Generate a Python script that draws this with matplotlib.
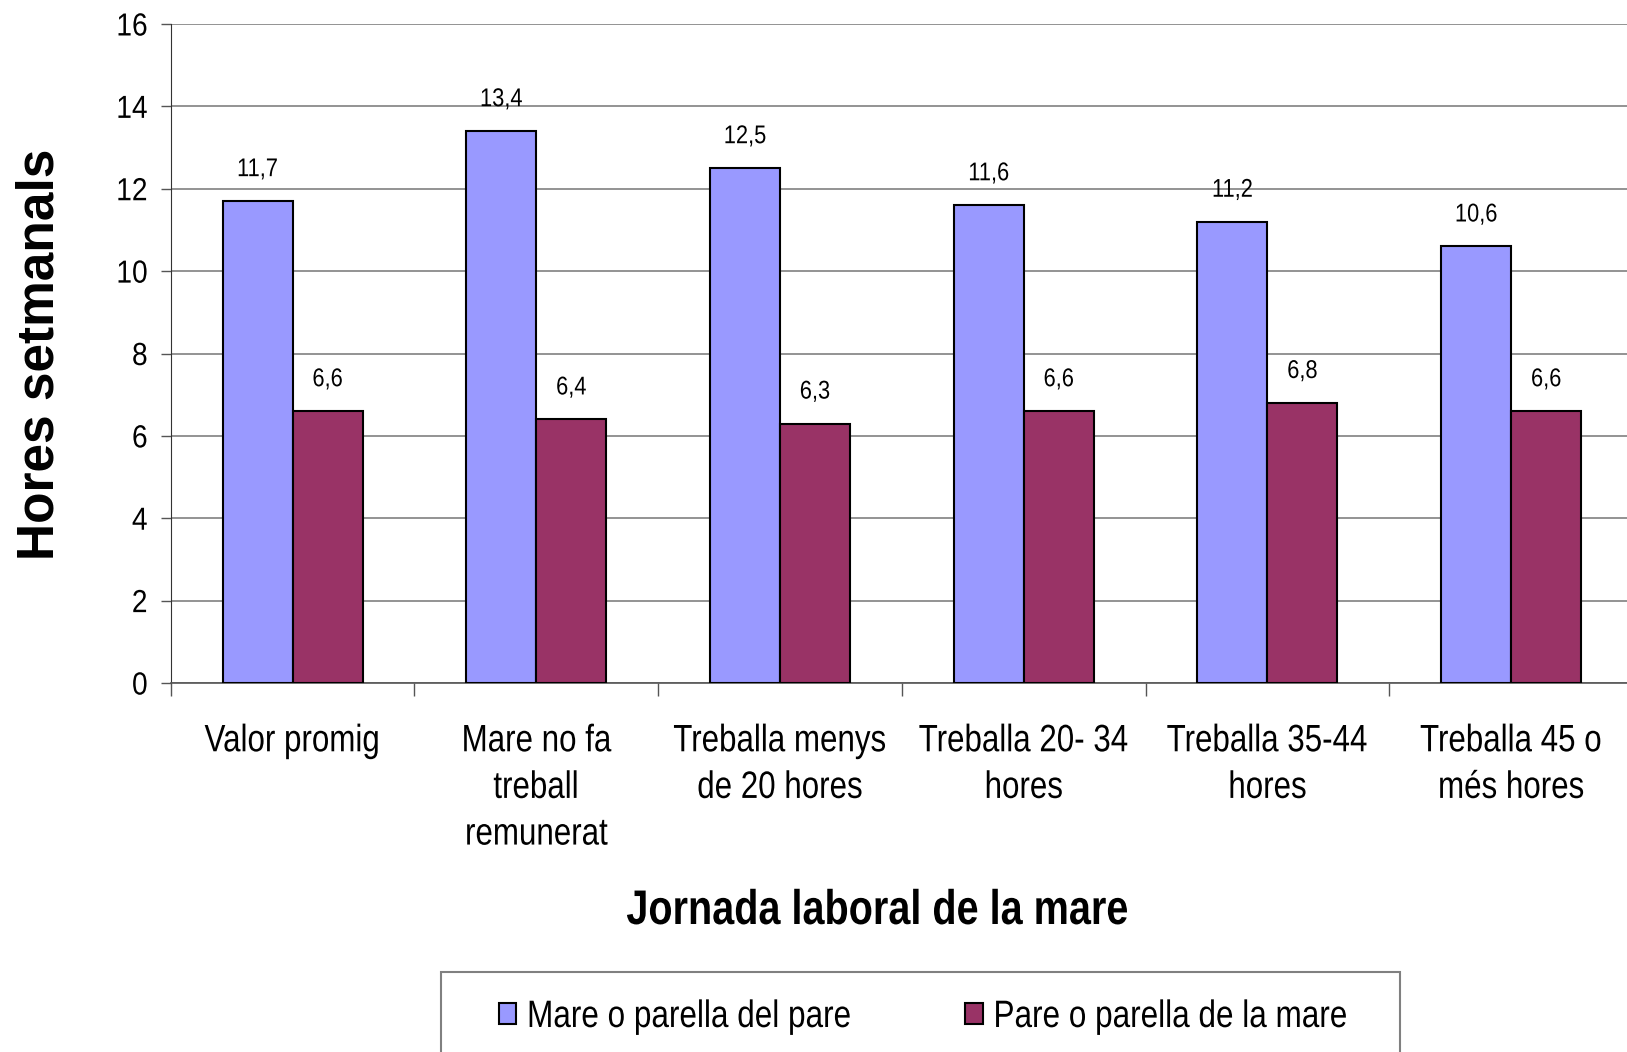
"""plot.py - Hores setmanals per jornada laboral de la mare"""

# === IMPORTS ===
import matplotlib

matplotlib.use("Agg")
import matplotlib.pyplot as plt
from matplotlib.patches import Rectangle
from matplotlib.patheffects import AbstractPathEffect
from matplotlib.transforms import Affine2D
import numpy as np

# === DATA ===
CATEGORIES = [
    "Valor promig",
    "Mare no fa\ntreball\nremunerat",
    "Treballa menys\nde 20 hores",
    "Treballa 20- 34\nhores",
    "Treballa 35-44\nhores",
    "Treballa 45 o\nmés hores",
]
MARE = [11.7, 13.4, 12.5, 11.6, 11.2, 10.6]
PARE = [6.6, 6.4, 6.3, 6.6, 6.8, 6.6]
SERIES_NAMES = ["Mare o parella del pare", "Pare o parella de la mare"]
Y_TICKS = [0, 2, 4, 6, 8, 10, 12, 14, 16]

# === STYLE ===
W, H = 1627, 1052
DPI = 100
BLUE = "#9999FF"
RED = "#993366"
FONT = "Liberation Sans"


class Squeeze(AbstractPathEffect):
    """Draw text narrower (the source uses a condensed Arial look)."""

    def __init__(self, sx=0.82, anchor="center"):
        super().__init__()
        self.sx = sx
        self.anchor = anchor

    def draw_path(self, renderer, gc, tpath, affine, rgbFace=None):
        ext = tpath.get_extents(affine)
        cx = {"left": ext.x0, "right": ext.x1}.get(self.anchor, (ext.x0 + ext.x1) / 2)
        squeeze = Affine2D().translate(-cx, 0).scale(self.sx, 1).translate(cx, 0)
        renderer.draw_path(gc, tpath, affine + squeeze, rgbFace)


def fx(px: float) -> float:
    return px / W


def fy(px: float) -> float:
    return 1 - px / H


def main() -> None:
    plt.rcParams["font.family"] = FONT
    fig = plt.figure(figsize=(W / DPI, H / DPI), dpi=DPI)
    ax = fig.add_axes([fx(170.7), fy(683), fx(1633) - fx(170.7), fy(24) - fy(683)])

    x = np.arange(len(CATEGORIES))
    bw = 0.287
    b1 = ax.bar(x - bw / 2, MARE, bw, color=BLUE, edgecolor="black", linewidth=1.5, zorder=3)
    b2 = ax.bar(x + bw / 2, PARE, bw, color=RED, edgecolor="black", linewidth=1.5, zorder=3)

    # value labels with decimal comma
    for bars, vals in ((b1, MARE), (b2, PARE)):
        for rect, v in zip(bars, vals):
            ax.annotate(
                f"{v:.1f}".replace(".", ","),
                (rect.get_x() + rect.get_width() / 2, v),
                xytext=(0, 23), textcoords="offset points",
                ha="center", va="center", fontsize=18.5,
                path_effects=[Squeeze(0.85)],
            )

    ax.set_xlim(-0.5, len(CATEGORIES) - 0.5)
    ax.set_ylim(0, 16)
    ax.set_yticks(Y_TICKS)
    ax.set_yticklabels([str(t) for t in Y_TICKS], fontsize=23)
    for lab in ax.get_yticklabels():
        lab.set_path_effects([Squeeze(0.88, "right")])
    ax.tick_params(axis="y", length=7, width=1, pad=9.5, color="#555555")

    ax.set_xticks(x)
    ax.set_xticklabels(CATEGORIES, fontsize=27.5, linespacing=1.38)
    for lab in ax.get_xticklabels():
        lab.set_path_effects([Squeeze(0.82)])
    ax.set_xticks(np.arange(len(CATEGORIES) + 1) - 0.5, minor=True)
    ax.tick_params(axis="x", which="major", length=0, pad=29)
    ax.tick_params(axis="x", which="minor", length=9, width=1, color="#555555")

    ax.yaxis.grid(True, color="#808080", linewidth=1.2)
    ax.set_axisbelow(True)
    for side in ("top", "right"):
        ax.spines[side].set_visible(False)
    ax.spines["left"].set_color("#333333")
    ax.spines["bottom"].set_color("#555555")
    ax.spines["bottom"].set_linewidth(1.2)

    # axis titles
    fig.text(fx(877), fy(924), "Jornada laboral de la mare", ha="center", va="baseline",
             fontsize=35, fontweight="bold", path_effects=[Squeeze(0.815)])
    fig.text(fx(54), fy(354), "Hores setmanals", rotation=90, rotation_mode="anchor",
             ha="center", va="baseline", fontsize=37, fontweight="bold")

    # legend box (runs past the bottom edge)
    fig.patches.append(Rectangle((fx(441), fy(1070)), fx(1400) - fx(441), fy(972) - fy(1070),
                                 transform=fig.transFigure, fill=False,
                                 edgecolor="#808080", linewidth=1.5))
    leg = fig.legend(
        [b1, b2], SERIES_NAMES,
        loc="center left", bbox_to_anchor=(fx(499), fy(1017)),
        ncol=2, frameon=False, prop={"size": 27.5},
        handlelength=0.45, handleheight=0.45, handletextpad=0.27,
        columnspacing=1.19, borderpad=0, borderaxespad=0,
    )
    for t in leg.get_texts():
        t.set_path_effects([Squeeze(0.825, "left")])

    fig.savefig("out.png", dpi=DPI)
    plt.close(fig)


if __name__ == "__main__":
    main()
